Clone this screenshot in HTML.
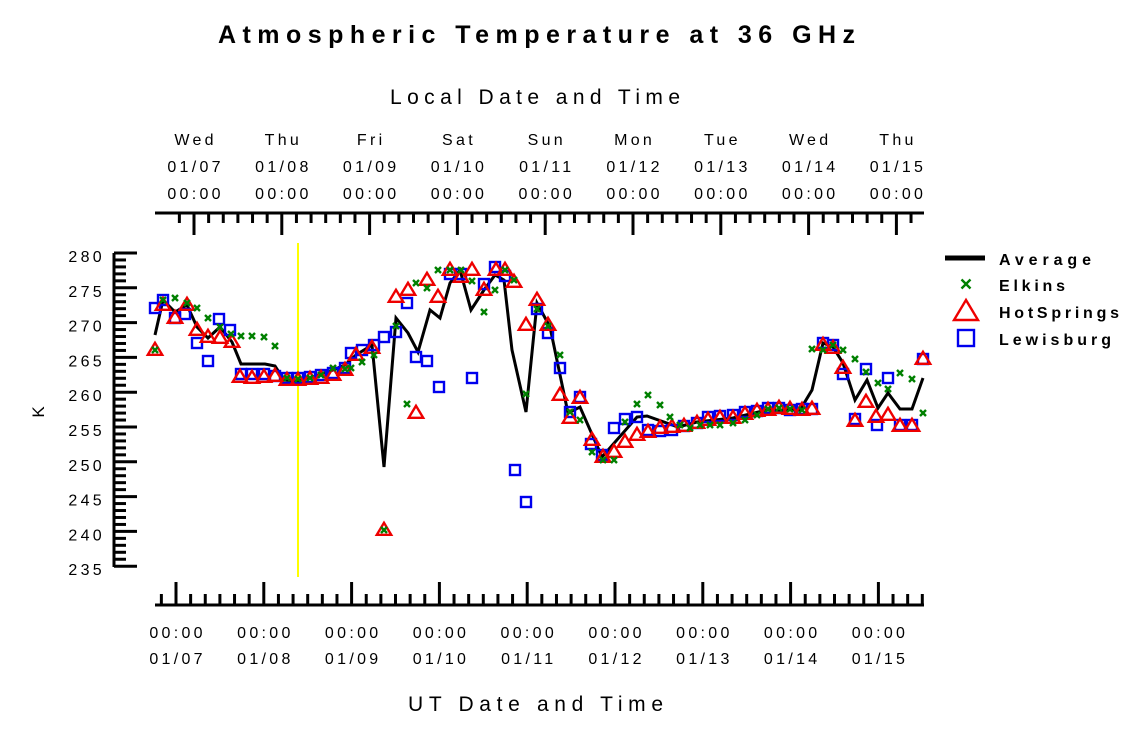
<!DOCTYPE html>
<html><head><meta charset="utf-8"><style>
html,body{margin:0;padding:0;background:#fff;}
svg{display:block;font-family:"Liberation Sans",Arial,sans-serif;}
</style></head><body>
<svg id="s" width="1125" height="731" viewBox="0 0 1125 731" xmlns="http://www.w3.org/2000/svg">
<text x="218" y="43" font-size="25" font-weight="bold" textLength="637" lengthAdjust="spacing">Atmospheric Temperature at 36 GHz</text>
<text x="390" y="104" font-size="21" textLength="290" lengthAdjust="spacing">Local Date and Time</text>
<text x="408" y="711" font-size="21" textLength="255" lengthAdjust="spacing">UT Date and Time</text>
<text x="44" y="412" font-size="17" text-anchor="middle" transform="rotate(-90 44 412)">K</text>
<line x1="298" y1="243" x2="298" y2="577" stroke="#ffff00" stroke-width="2"/>
<g id="ax" stroke="#000" stroke-width="3" fill="none"></g>
<g id="tx" font-size="16" letter-spacing="3.3"></g>
<g id="dat"></g>
<g font-size="16" font-weight="bold">
<line x1="945" y1="258" x2="985" y2="258" stroke="#000" stroke-width="5"/>
<text x="999" y="265" textLength="92" lengthAdjust="spacing">Average</text>
<text x="999" y="291" textLength="66" lengthAdjust="spacing">Elkins</text>
<text x="999" y="318" textLength="120" lengthAdjust="spacing">HotSprings</text>
<text x="999" y="345" textLength="112" lengthAdjust="spacing">Lewisburg</text>
</g>
<g id="leg"></g>
</svg>
<script>
const NS="http://www.w3.org/2000/svg";
function el(p,t,a,txt){const e=document.createElementNS(NS,t);for(const k in a)e.setAttribute(k,a[k]);if(txt!==undefined)e.textContent=txt;document.getElementById(p).appendChild(e);return e;}
el("ax","line",{x1:155,y1:213,x2:924,y2:213});
el("ax","line",{x1:155,y1:605,x2:924,y2:605});
el("ax","line",{x1:114,y1:253,x2:114,y2:567});
const day=87.8;
for(let i=-1;i<60;i++){
 let xt=194+i*day/6; if(xt>=160&&xt<=924){el("ax","line",{x1:xt,y1:213,x2:xt,y2:(i%6==0)?235:223});}
 let xb=176+i*day/6; if(xb>=160&&xb<=924){el("ax","line",{x1:xb,y1:605,x2:xb,y2:(i%6==0)?582:594});}
}
for(let k=235;k<=280;k++){let y=253+(280-k)*34.8/5;el("ax","line",{x1:114,y1:y,x2:(k%5==0)?137:126,y2:y});
 if(k%5==0)el("tx","text",{x:105,y:y+9,"text-anchor":"end"},k);}
const days=["Wed","Thu","Fri","Sat","Sun","Mon","Tue","Wed","Thu"];
for(let i=0;i<9;i++){let x=194+i*day+1.6;let d="01/"+String(7+i).padStart(2,"0");
 el("tx","text",{x:x,y:145,"text-anchor":"middle"},days[i]);
 el("tx","text",{x:x,y:172,"text-anchor":"middle"},d);
 el("tx","text",{x:x,y:199,"text-anchor":"middle"},"00:00");
 let xb=176+i*day+1.6;
 el("tx","text",{x:xb,y:638,"text-anchor":"middle"},"00:00");
 el("tx","text",{x:xb,y:664,"text-anchor":"middle"},d);}
const avg=[[155,335],[163,300],[175,312],[187,305],[197,327],[208,338],[220,327],[232,342],[241,364],[265,364],[275,366],[284,380],[298,381],[310,378],[321,374],[333,370],[345,365],[356,355],[372,345],[384,467],[396,318],[408,333],[418,352],[430,310],[440,318],[450,283],[460,270],[471,310],[484,290],[495,275],[504,280],[512,350],[526,412],[537,303],[550,327],[568,413],[580,407],[602,457],[637,417],[647,416],[678,427],[697,422],[733,418],[767,410],[800,410],[812,390],[823,343],[833,347],[843,363],[855,400],[867,380],[878,408],[888,393],[900,409],[912,409],[923,378]];
el("dat","polyline",{points:avg.map(p=>p.join(",")).join(" "),fill:"none",stroke:"#000","stroke-width":3,"stroke-linejoin":"miter"});
const red=[[155,350],[163,305],[175,318],[187,305],[197,330],[208,337],[220,338],[232,342],[240,377],[252,378],[264,377],[275,376],[287,380],[298,380],[310,379],[321,378],[333,375],[345,370],[356,355],[372,348],[384,530],[396,297],[408,290],[416,413],[427,280],[438,297],[450,270],[461,277],[472,270],[484,290],[496,270],[505,270],[514,282],[526,325],[537,300],[548,325],[560,395],[570,418],[580,398],[592,440],[603,457],[614,452],[625,442],[637,435],[648,432],[660,428],[672,427],[684,426],[697,423],[708,420],[720,418],[733,418],[745,414],[757,411],[768,410],[779,408],[790,409],[802,410],[812,409],[823,345],[833,348],[843,368],[855,421],[866,402],[876,417],[888,415],[900,426],[912,426],[923,359]];
const blue=[[155,308],[163,300],[175,318],[185,314],[197,343],[208,361],[219,319],[230,330],[241,374],[252,374],[264,374],[275,376],[287,378],[298,378],[310,377],[321,375],[333,373],[345,368],[351,353],[362,350],[374,345],[384,337],[396,332],[407,303],[416,357],[427,361],[439,387],[450,274],[461,274],[472,378],[484,284],[495,267],[505,276],[515,470],[526,502],[537,309],[548,333],[560,368],[570,412],[580,397],[591,444],[602,455],[614,428],[625,419],[637,417],[648,430],[660,431],[672,430],[684,426],[697,423],[708,417],[720,416],[733,415],[745,412],[757,411],[768,408],[779,408],[790,410],[802,409],[812,409],[823,343],[833,345],[843,374],[855,419],[866,369],[877,425],[888,378],[900,425],[912,425],[923,359]];
const grn=[[155,350],[163,300],[175,298],[187,303],[197,308],[208,318],[220,327],[231,334],[241,336],[252,336],[264,337],[275,346],[287,378],[298,379],[310,378],[321,375],[333,368],[345,369],[351,368],[362,362],[374,355],[384,530],[396,326],[407,404],[416,283],[427,288],[438,270],[450,270],[461,270],[472,281],[484,312],[495,290],[505,270],[514,280],[526,394],[537,309],[548,326],[560,355],[570,412],[580,420],[592,452],[603,460],[614,460],[625,422],[637,404],[648,395],[660,405],[670,417],[680,425],[690,428],[700,425],[710,425],[720,425],[733,423],[745,420],[757,415],[768,409],[779,408],[790,409],[802,410],[812,349],[823,350],[833,345],[843,350],[855,359],[866,372],[878,383],[888,389],[900,373],[912,379],[923,413]];
function sq(g,x,y,s){el(g,"rect",{x:x-s/2,y:y-s/2,width:s,height:s,fill:"none",stroke:"#0000ee","stroke-width":2.4});}
function tri(g,x,y,s){el(g,"polygon",{points:`${x},${y-s*0.6} ${x-s*0.6},${y+s*0.4} ${x+s*0.6},${y+s*0.4}`,fill:"none",stroke:"#ee0000","stroke-width":2.4});}
function cr(g,x,y,s){el(g,"path",{d:`M${x-s/2},${y-s/2}L${x+s/2},${y+s/2}M${x+s/2},${y-s/2}L${x-s/2},${y+s/2}`,stroke:"#008000","stroke-width":2.4});}
blue.forEach(p=>sq("dat",p[0],p[1],10));
red.forEach(p=>tri("dat",p[0],p[1],12));
grn.forEach(p=>cr("dat",p[0],p[1],6));
cr("leg",966,284,9);tri("leg",966,312,20);sq("leg",966,338,16);
</script>
</body></html>
